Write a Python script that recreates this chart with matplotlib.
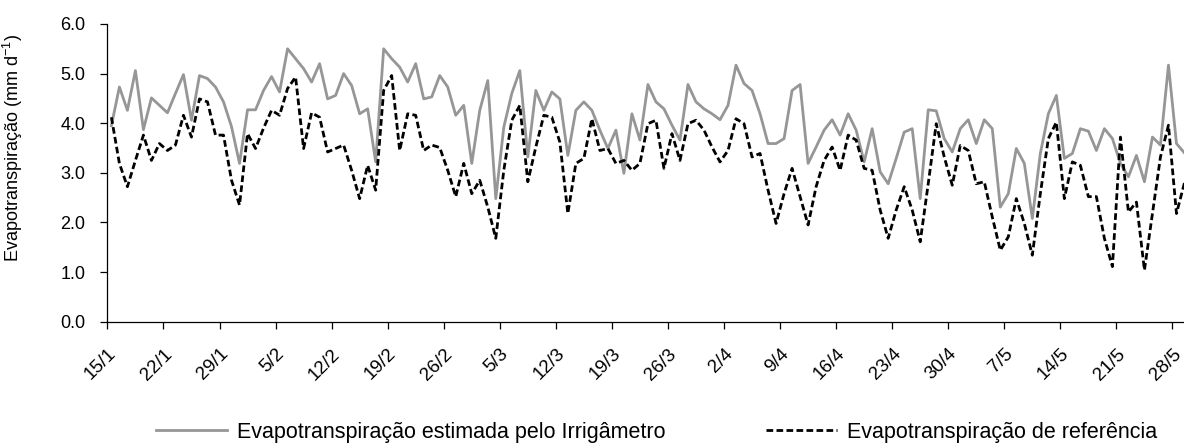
import numpy as np
import matplotlib
matplotlib.use('Agg')
import matplotlib.pyplot as plt
from matplotlib.ticker import FormatStrFormatter

plt.rcParams['font.family'] = 'Liberation Sans'
plt.rcParams['mathtext.fontset'] = 'custom'
plt.rcParams['mathtext.rm'] = 'Liberation Sans'

# rotulos do eixo x (um a cada 7 dias, a partir de 15/1)
tick_labels = ['15/1', '22/1', '29/1', '5/2', '12/2', '19/2', '26/2', '5/3', '12/3', '19/3',
               '26/3', '2/4', '9/4', '16/4', '23/4', '30/4', '7/5', '14/5', '21/5', '28/5']

# ET estimada pelo Irrigametro (mm/d), diaria
irrigametro = [3.95, 4.73, 4.26, 5.06, 3.87, 4.51, 4.36, 4.21, 4.60, 4.98,
               4.06, 4.96, 4.90, 4.73, 4.43, 3.93, 3.19, 4.27, 4.27, 4.66,
               4.94, 4.63, 5.50, 5.30, 5.10, 4.83, 5.20, 4.49, 4.56, 5.00,
               4.76, 4.19, 4.29, 3.22, 5.50, 5.30, 5.13, 4.83, 5.20, 4.49,
               4.53, 4.96, 4.73, 4.16, 4.36, 3.19, 4.26, 4.86, 2.48, 3.92,
               4.60, 5.06, 3.32, 4.66, 4.26, 4.63, 4.49, 3.35, 4.26, 4.43,
               4.26, 3.86, 3.49, 3.86, 2.99, 4.19, 3.66, 4.78, 4.43, 4.29,
               3.96, 3.66, 4.78, 4.43, 4.29, 4.19, 4.07, 4.36, 5.17, 4.80,
               4.66, 4.19, 3.59, 3.59, 3.69, 4.66, 4.78, 3.19, 3.52, 3.86,
               4.07, 3.76, 4.19, 3.86, 3.22, 3.89, 3.02, 2.78, 3.29, 3.82,
               3.89, 2.48, 4.27, 4.25, 3.69, 3.42, 3.89, 4.07, 3.59, 4.07,
               3.89, 2.31, 2.58, 3.49, 3.19, 2.08, 3.39, 4.19, 4.56, 3.29,
               3.39, 3.89, 3.84, 3.45, 3.89, 3.69, 3.19, 2.92, 3.35, 2.82,
               3.72, 3.56, 5.17, 3.59, 3.40]

# ET de referencia (mm/d), diaria
referencia = [4.12, 3.19, 2.72, 3.25, 3.76, 3.25, 3.59, 3.45, 3.56, 4.16,
              3.72, 4.49, 4.43, 3.76, 3.76, 2.85, 2.35, 3.79, 3.49, 3.90,
              4.26, 4.16, 4.70, 4.93, 3.49, 4.21, 4.12, 3.42, 3.49, 3.56,
              3.05, 2.48, 3.15, 2.65, 4.66, 4.96, 3.45, 4.19, 4.16, 3.45,
              3.56, 3.51, 3.05, 2.52, 3.19, 2.58, 2.85, 2.31, 1.68, 3.05,
              4.06, 4.36, 2.82, 3.52, 4.16, 4.12, 3.62, 2.18, 3.19, 3.29,
              4.09, 3.45, 3.49, 3.19, 3.25, 3.05, 3.19, 3.99, 4.06, 3.09,
              3.79, 3.25, 3.99, 4.06, 3.86, 3.52, 3.22, 3.45, 4.09, 3.99,
              3.32, 3.39, 2.65, 1.98, 2.58, 3.09, 2.52, 1.95, 2.72, 3.25,
              3.52, 3.05, 3.76, 3.66, 3.09, 3.05, 2.25, 1.68, 2.25, 2.72,
              2.25, 1.61, 2.78, 3.99, 3.32, 2.75, 3.55, 3.45, 2.78, 2.82,
              2.11, 1.44, 1.71, 2.48, 1.98, 1.34, 2.58, 3.69, 4.02, 2.48,
              3.22, 3.15, 2.52, 2.52, 1.68, 1.11, 3.72, 2.21, 2.41, 1.04,
              2.18, 3.32, 3.96, 2.18, 2.80]

fig = plt.figure(figsize=(11.84, 4.44), dpi=100)
ax = fig.add_axes([0.0907, 0.2755, 0.9093, 0.6705])

x = np.arange(len(irrigametro))
ax.plot(x, irrigametro, color='#969696', lw=2.0,
        label='Evapotranspiração estimada pelo Irrigâmetro')
ax.plot(x, referencia, color='black', lw=2.0, ls=(0, (2.4, 1.2)),
        dash_capstyle='butt', label='Evapotranspiração de referência')

ax.set_xlim(-0.5, 133.94)
ax.set_ylim(0, 6)
ax.set_yticks(np.arange(0, 7, 1))
ax.yaxis.set_major_formatter(FormatStrFormatter('%.1f'))

ax.set_xticks(np.arange(len(tick_labels)) * 7 - 0.5)
ax.set_xticklabels(tick_labels, rotation=45, ha='right', rotation_mode='anchor')
ax.tick_params(axis='x', direction='out', length=4.8, width=0.9, pad=12.3, labelsize=13.5)
ax.tick_params(axis='y', direction='out', length=4.8, width=0.9, pad=11, labelsize=13)

for s in ['top', 'right']:
    ax.spines[s].set_visible(False)
for s in ['left', 'bottom']:
    ax.spines[s].set_linewidth(0.9)

ax.set_ylabel('Evapotranspiração (mm d$^{\\mathregular{-1}}$)', fontsize=13)
ax.yaxis.set_label_coords(-0.0765, 0.583)

fig.legend(loc='center', bbox_to_anchor=(0.5545, 0.027), ncol=2, frameon=False,
           fontsize=15.5, handlelength=3.3, handletextpad=0.45, columnspacing=4.7,
           borderpad=0, borderaxespad=0)

fig.savefig('out.png', dpi=100)
